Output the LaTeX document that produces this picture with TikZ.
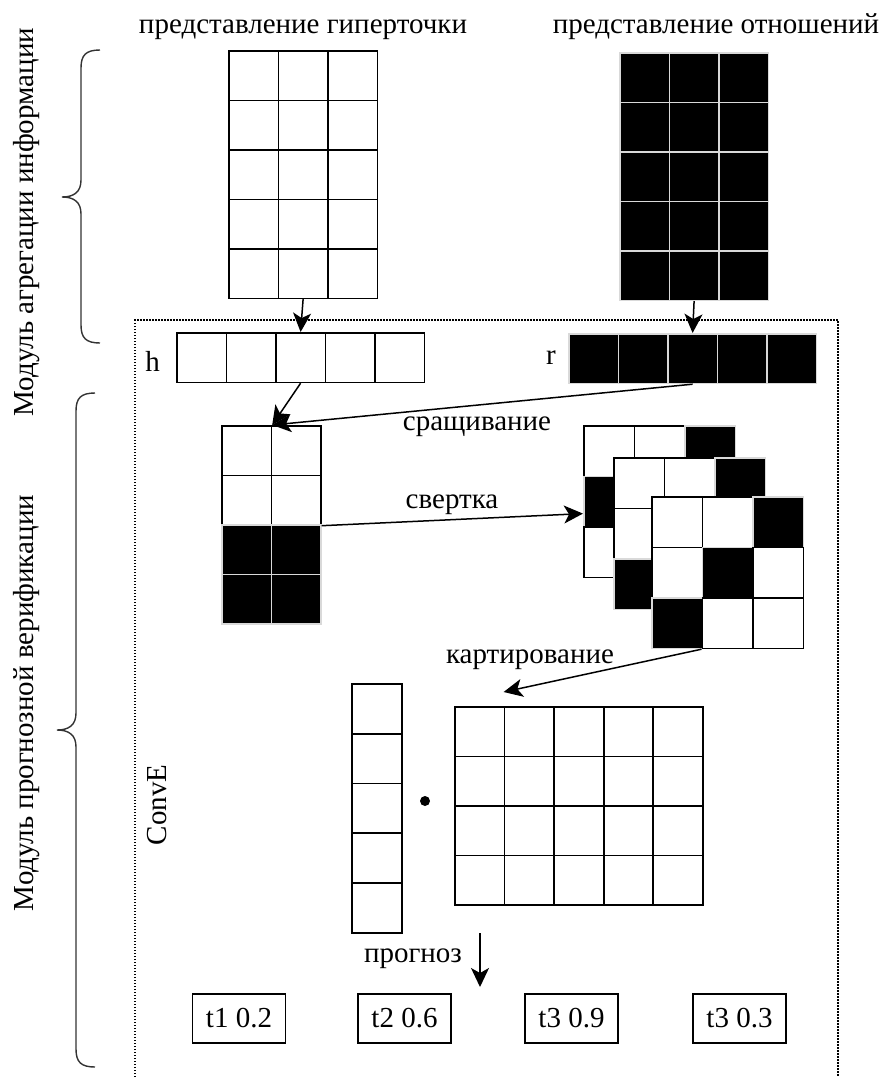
\documentclass[tikz,border=0pt]{standalone}
\usepackage{fontspec}
\setmainfont{Liberation Serif}
\usetikzlibrary{arrows.meta}

\begin{document}
\begin{tikzpicture}[x=1pt,y=-1pt,
    font=\fontsize{29}{34}\selectfont,
    wcell/.style={draw=black, fill=white, line width=1.7pt, minimum width=49.5pt, minimum height=49.5pt, inner sep=0pt, anchor=north west},
    bcell/.style={wcell, draw=white!85!black, fill=black},
    arr/.style={-{Stealth[length=19pt,width=18pt,inset=5pt]}, line width=1.5pt},
    brc/.style={line width=1.4pt, black!80},
    tbox/.style={draw, line width=1.7pt, minimum width=93pt, minimum height=49pt, inner sep=0pt}]
        \useasboundingbox (0,0) rectangle (889,1077);

        % Draw titles and side labels
        \node[anchor=base] (tHyp) at (303,33) {представление гиперточки};
        \node[anchor=base] (tRel) at (716,33) {представление отношений};
        \node[rotate=90] (lAgg) at (27,222) {Модуль агрегации информации};
        \node[rotate=90] (lPred) at (27,703) {Модуль прогнозной верификации};
        \node[rotate=90] (lConv) at (157,805) {ConvE};

        % Draw braces and dotted frame
        \draw[brc] (100,50) .. controls (86,50) and (81,55) .. (81,68) -- (81,180)
            .. controls (81,192) and (74,197) .. (62,197)
            .. controls (74,197) and (81,202) .. (81,214) -- (81,325)
            .. controls (81,338) and (86,343) .. (100,343);
        \draw[brc] (95,393) .. controls (81,393) and (76,398) .. (76,411) -- (76,713)
            .. controls (76,725) and (69,730) .. (57,730)
            .. controls (69,730) and (76,735) .. (76,747) -- (76,1049)
            .. controls (76,1062) and (81,1067) .. (95,1067);
        \draw[line width=2pt, dash pattern=on 1.5pt off 1.5pt] (135,1077) |- (838,320) -- (838,1077);

        % Draw embedding grids
        \foreach \r in {1,...,5}
            \foreach \c in {1,2,3} {
                \node[wcell] (hp-\r-\c) at ({228+(\c-1)*49.5},{50+(\r-1)*49.5}) {};
                \node[bcell] (rp-\r-\c) at ({619+(\c-1)*49.5},{52+(\r-1)*49.5}) {};
            }

        % Draw vectors h and r
        \foreach \c in {1,...,5} {
            \node[wcell] (h-\c) at ({176+(\c-1)*49.5},332) {};
            \node[bcell] (r-\c) at ({568+(\c-1)*49.5},333) {};
        }
        \node[anchor=base] (lh) at (152.5,371) {h};
        \node[anchor=base] (lr) at (551,364) {r};

        % Draw concatenated grid
        \foreach \r in {1,...,4}
            \foreach \c in {1,2} {
                \ifnum\r>2 \def\st{bcell}\else\def\st{wcell}\fi
                \node[\st] (cc-\r-\c) at ({221+(\c-1)*49.5},{425+(\r-1)*49.5}) {};
            }

        % Draw feature maps
        \foreach \l/\x/\y in {1/583/425,2/613/457,3/651/496}
            \foreach \r in {1,2,3}
                \foreach \c in {1,2,3} {
                    \pgfmathtruncatemacro\blk{\l==1 ? (mod(\r-\c+3,3)==1) : (\r+\c==4)}
                    \ifnum\blk=1 \def\st{bcell}\else\def\st{wcell}\fi
                    \node[\st, minimum width=50.5pt, minimum height=50.5pt] (f\l-\r-\c) at ({\x+(\c-1)*50.5},{\y+(\r-1)*50.5}) {};
                }

        % Draw column vector, dot and matrix
        \foreach \r in {1,...,5}
            \node[wcell, minimum width=50pt, minimum height=49.8pt] (v-\r) at (351,{683+(\r-1)*49.8}) {};
        \node[circle, fill, inner sep=0pt, minimum size=10pt] (dot) at (425,801) {};
        \foreach \r in {1,...,4}
            \foreach \c in {1,...,5}
                \node[wcell, minimum width=49.6pt] (m-\r-\c) at ({454+(\c-1)*49.6},{706+(\r-1)*49.5}) {};

        % Draw prediction boxes
        \node[tbox] (t1) at (239,1018.5) {t1 0.2};
        \node[tbox] (t2) at (404.5,1018.5) {t2 0.6};
        \node[tbox] (t3) at (571.5,1018.5) {t3 0.9};
        \node[tbox] (t4) at (739.5,1018.5) {t3 0.3};

        % Draw connections
        \draw[arr] (hp-5-2.south) -- (h-3.north);
        \draw[arr] (rp-5-2.south) -- (r-3.north);
        \draw[arr] (h-3.south) -- (cc-1-1.north east);
        \draw[arr] (r-3.south) -- (cc-1-1.north east);
        \draw[arr] (cc-2-2.south east) -- ([yshift=-12pt]f1-2-1.west);
        \draw[arr] (f3-3-2.south west) -- ([yshift=14pt]m-1-2.north west);
        \coordinate (pStart) at (480,933);
        \coordinate (pEnd) at (480,987);
        \draw[arr] (pStart) -- (pEnd);

        % Draw connection labels
        \node[anchor=base] (lCat) at (477,430) {сращивание};
        \node[anchor=base] (lConvo) at (452,508) {свертка};
        \node[anchor=base] (lMap) at (530,663) {картирование};
        \node[anchor=base] (lPrd) at (413,962) {прогноз};
    \end{tikzpicture}
\end{document}
